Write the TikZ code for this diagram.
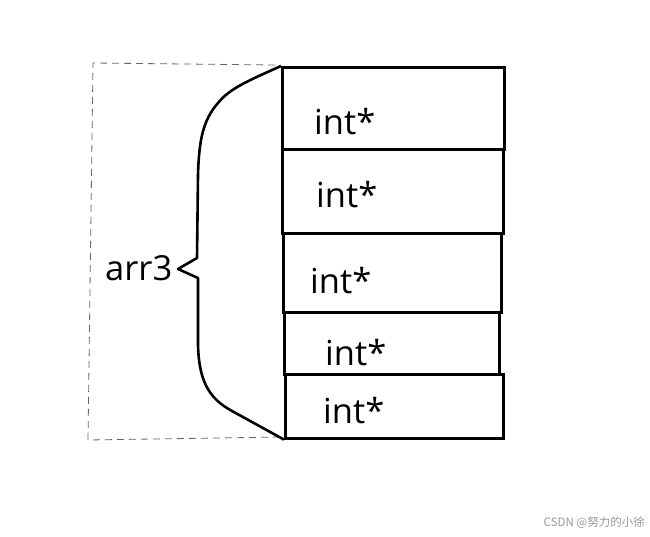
\documentclass[tikz,border=0pt]{standalone}
\usepackage{fontspec}
\setmainfont{Open Sans}
\newfontfamily\cjk{Noto Sans CJK SC}
\begin{document}
\begin{tikzpicture}[x=1pt,y=-1pt,
  cell/.style={draw=black,line width=2.6pt,rectangle,inner sep=0pt,anchor=north west},
  lbl/.style={anchor=base west,inner sep=0pt,font=\fontsize{34.5}{37}\selectfont},
  brace/.style={draw=black,line width=2.6pt,line join=round},
  guide/.style={draw=black!60,line width=0.8pt,dash pattern=on 7pt off 5pt}]
\useasboundingbox (0,0) rectangle (650,537);
\fill[white] (0,0) rectangle (650,537);
% boxes
\node[cell,minimum width=222pt,minimum height=82pt] (b1) at (281,66) {};
\node[cell,minimum width=221pt,minimum height=84pt] (b2) at (281,148) {};
\node[cell,minimum width=218pt,minimum height=79pt] (b3) at (282,232) {};
\node[cell,minimum width=215pt,minimum height=62pt] (b4) at (283,311) {};
\node[cell,minimum width=218pt,minimum height=64pt] (b5) at (284,373) {};
% texts
\node[lbl] (t1) at (314,135) {int*};
\node[lbl] (t2) at (316,208) {int*};
\node[lbl] (t3) at (310,293) {int*};
\node[lbl] (t4) at (325,365) {int*};
\node[lbl] (t5) at (323,423) {int*};
\node[lbl] (arr) at (105,280) {arr3};
% dashed guide
\coordinate (g1) at (275,65);
\coordinate (g2) at (93,63);
\coordinate (g3) at (88,440);
\coordinate (g4) at (281,437);
\draw[guide] (g1) -- (g2) -- (g3) -- (g4);
% brace
\coordinate (tip) at (178,269);
\draw[brace] (b1.north west) .. controls (250,80) and (230,88) .. (218,103)
  .. controls (203,120) and (199,140) .. (198,175)
  -- (197,258) -- (tip) -- (198,278) -- (198,345)
  .. controls (199,380) and (208,398) .. (232,411) -- (b5.south west);
% watermark
\node[anchor=base east,inner sep=0pt,text=black!40,font=\cjk\fontsize{11.5}{13}\selectfont] (wm) at (645,526) {CSDN @努力的小徐};
\end{tikzpicture}
\end{document}
